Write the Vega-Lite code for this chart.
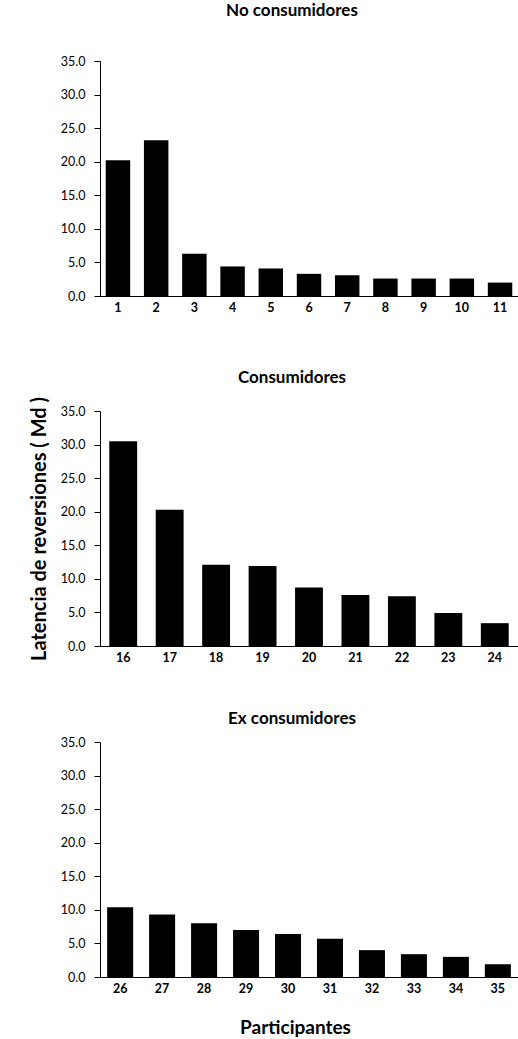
{
  "$schema": "https://vega.github.io/schema/vega-lite/v6.json",
  "padding": {"left": 29, "top": 2, "right": 0, "bottom": 0},
  "background": "white",
  "config": {
    "font": "Lato",
    "view": {"stroke": null},
    "axis": {"grid": false, "domainColor": "black", "tickColor": "black", "labelColor": "black", "titleColor": "black", "labelFont": "Lato", "titleFont": "Lato"},
    "title": {"font": "Lato", "fontSize": 17, "fontWeight": "bold", "color": "black", "dx": -17}
  },
  "datasets": {
    "no": [
      {"participante": 1, "latencia": 20.2},
      {"participante": 2, "latencia": 23.2},
      {"participante": 3, "latencia": 6.3},
      {"participante": 4, "latencia": 4.4},
      {"participante": 5, "latencia": 4.1},
      {"participante": 6, "latencia": 3.3},
      {"participante": 7, "latencia": 3.1},
      {"participante": 8, "latencia": 2.6},
      {"participante": 9, "latencia": 2.6},
      {"participante": 10, "latencia": 2.6},
      {"participante": 11, "latencia": 2.0}
    ],
    "cons": [
      {"participante": 16, "latencia": 30.5},
      {"participante": 17, "latencia": 20.3},
      {"participante": 18, "latencia": 12.1},
      {"participante": 19, "latencia": 11.9},
      {"participante": 20, "latencia": 8.7},
      {"participante": 21, "latencia": 7.6},
      {"participante": 22, "latencia": 7.4},
      {"participante": 23, "latencia": 4.9},
      {"participante": 24, "latencia": 3.4}
    ],
    "ex": [
      {"participante": 26, "latencia": 10.4},
      {"participante": 27, "latencia": 9.3},
      {"participante": 28, "latencia": 8.0},
      {"participante": 29, "latencia": 7.0},
      {"participante": 30, "latencia": 6.4},
      {"participante": 31, "latencia": 5.7},
      {"participante": 32, "latencia": 4.0},
      {"participante": 33, "latencia": 3.4},
      {"participante": 34, "latencia": 3.0},
      {"participante": 35, "latencia": 1.9}
    ]
  },
  "spacing": 46,
  "vconcat": [
    {
      "width": 418,
      "height": 235,
      "title": {"text": "No consumidores", "offset": 35},
      "data": {"name": "no"},
      "mark": {"type": "bar", "color": "black"},
      "encoding": {
        "x": {"field": "participante", "type": "ordinal", "scale": {"paddingInner": 0.36, "paddingOuter": 0.15},
              "axis": {"title": null, "labelAngle": 0, "ticks": false, "labelPadding": 5, "labelFontSize": 12.5, "labelFontWeight": "bold", "minExtent": 26, "domainWidth": 1}},
        "y": {"field": "latencia", "type": "quantitative", "scale": {"domain": [0, 35], "nice": false},
              "axis": {"title": null, "values": [0, 5, 10, 15, 20, 25, 30, 35], "format": ".1f", "tickSize": 6, "labelPadding": 9, "labelFontSize": 12.5}}
      }
    },
    {
      "width": 418,
      "height": 235,
      "title": {"text": "Consumidores", "offset": 10},
      "data": {"name": "cons"},
      "mark": {"type": "bar", "color": "black"},
      "encoding": {
        "x": {"field": "participante", "type": "ordinal", "scale": {"paddingInner": 0.4, "paddingOuter": 0.2},
              "axis": {"title": null, "labelAngle": 0, "ticks": false, "labelPadding": 5, "labelFontSize": 12.5, "labelFontWeight": "bold"}},
        "y": {"field": "latencia", "type": "quantitative", "scale": {"domain": [0, 35], "nice": false},
              "axis": {"title": "Latencia de reversiones ( Md )", "titleFontSize": 20, "titleFontWeight": "bold", "titlePadding": 11, "values": [0, 5, 10, 15, 20, 25, 30, 35], "format": ".1f", "tickSize": 6, "labelPadding": 9, "labelFontSize": 12.5}}
      }
    },
    {
      "width": 418,
      "height": 235,
      "title": {"text": "Ex consumidores", "offset": 8},
      "data": {"name": "ex"},
      "mark": {"type": "bar", "color": "black"},
      "encoding": {
        "x": {"field": "participante", "type": "ordinal", "scale": {"paddingInner": 0.38, "paddingOuter": 0.17},
              "axis": {"title": "Participantes", "titleFontSize": 19, "titleFontWeight": "bold", "titlePadding": 24, "titleX": 195, "labelAngle": 0, "ticks": false, "labelPadding": 5, "labelFontSize": 12.5, "labelFontWeight": "bold"}},
        "y": {"field": "latencia", "type": "quantitative", "scale": {"domain": [0, 35], "nice": false},
              "axis": {"title": null, "values": [0, 5, 10, 15, 20, 25, 30, 35], "format": ".1f", "tickSize": 6, "labelPadding": 9, "labelFontSize": 12.5}}
      }
    }
  ]
}
